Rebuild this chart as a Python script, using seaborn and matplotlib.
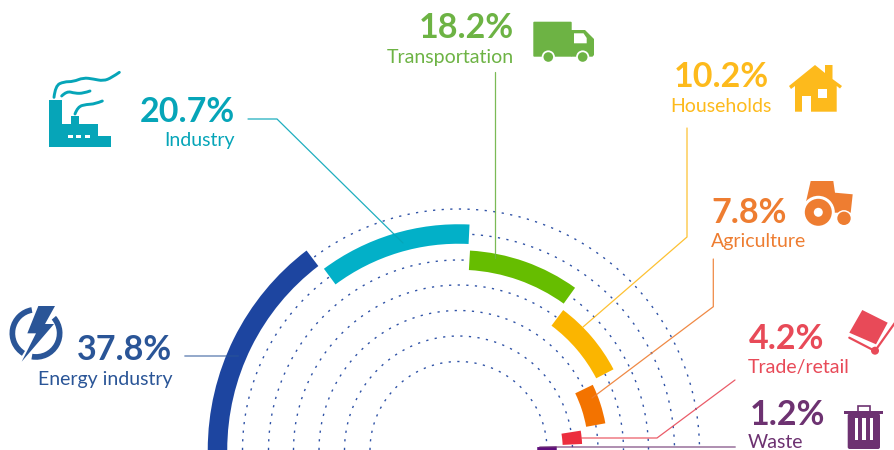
import numpy as np
import pandas as pd
import seaborn as sns
import matplotlib.pyplot as plt
from matplotlib.patches import Circle, Polygon, Rectangle, Wedge, FancyBboxPatch, PathPatch
from matplotlib.path import Path

# Chart values
sectors = ['Energy industry', 'Industry', 'Transportation', 'Households',
           'Agriculture', 'Trade/retail', 'Waste']
shares = [37.8, 20.7, 18.2, 10.2, 7.8, 4.2, 1.2]
arc_start = [0, 53.4, 93.3, 126.8, 154.1, 171.0, 177.9]
arc_end = [52.7, 92.8, 125.7, 152.5, 169.7, 177.2, 180.0]
ring_radii = [241, 216, 190, 165, 139.5, 114, 88.5]
bar_colors = ['#1d45a0', '#02b0c8', '#66bd00', '#fbb500', '#f37300', '#ec2e3e', '#5e0e7c']
text_colors = ['#2a5597', '#06a5b8', '#6db344', '#fdba1c', '#ee7d31', '#e84a58', '#6d3271']

W, H = 895, 450
CX, CY = 458.5, 450
RMAX = 300
BAR_W = 19.5
PCT_FONT = 'Lato'
LABEL_FONT = 'Lato'


def draw_rings(ax):
    theta = np.linspace(0, np.pi, 400)
    rings = pd.concat([pd.DataFrame({'theta': theta, 'r': r, 'ring': i})
                       for i, r in enumerate(ring_radii)])
    sns.lineplot(data=rings, x='theta', y='r', units='ring', estimator=None, sort=False,
                 color='#2f52a6', linewidth=1.0, linestyle=(0, (1.6, 4.6)), legend=False, ax=ax)


def draw_arcs(ax):
    start = np.radians(arc_start)
    span = np.radians(arc_end) - start
    inner = np.array(ring_radii) - BAR_W / 2
    ax.bar(start + span / 2, BAR_W, width=span, bottom=inner, color=bar_colors, linewidth=0, zorder=3)


def draw_labels(ax):
    # (x, baseline y of percent, x, baseline y of name, alignment)
    spots = [(172.5, 360.5, 173, 385, 'right'),
             (235, 121.5, 234.5, 146, 'right'),
             (514, 38, 513.5, 63, 'right'),
             (769, 87, 771.5, 111.5, 'right'),
             (711.5, 223, 711, 247.5, 'left'),
             (749, 349, 748, 373, 'left'),
             (750, 425, 748, 448, 'left')]
    for share, name, col, (x1, y1, x2, y2, ha) in zip(shares, sectors, text_colors, spots):
        ax.text(x1, y1, f'{share:.1f}%', color=col, fontsize=24.5, fontweight='bold',
                family=PCT_FONT, ha=ha, va='baseline')
        ax.text(x2, y2, name, color=col, fontsize=14, family=LABEL_FONT, ha=ha, va='baseline')


def draw_leaders(ax):
    leaders = [([185, 238], [356, 356]),
               ([248, 277, 403], [119, 119, 243]),
               ([495.5, 495.5], [72, 258]),
               ([687, 687, 583], [128, 237, 327]),
               ([713.3, 713.3, 592], [259, 306.7, 398]),
               ([735, 657, 581], [380, 438, 438]),
               ([735, 540], [447, 447])]
    widths = [1.3, 0.9, 0.9, 0.9, 0.9, 0.9, 1.4]
    alphas = [0.55, 0.9, 0.9, 0.9, 0.9, 0.9, 0.55]
    for (xs, ys), col, lw, al in zip(leaders, text_colors, widths, alphas):
        ax.plot(xs, ys, color=col, linewidth=lw, alpha=al, solid_joinstyle='miter')


def smooth(ax, pts, col, lw=2.1):
    verts = [pts[0]]
    codes = [Path.MOVETO]
    for a, b in zip(pts[1:-1], pts[2:]):
        verts += [a, ((a[0] + b[0]) / 2, (a[1] + b[1]) / 2)]
        codes += [Path.CURVE3, Path.CURVE3]
    verts[-1] = pts[-1]
    ax.add_patch(PathPatch(Path(verts, codes), fill=False, edgecolor=col, linewidth=lw, capstyle='round'))


def draw_icons(ax):
    # factory
    c = text_colors[1]
    ax.add_patch(Polygon([(49, 100), (61.7, 100), (61.7, 124.3), (71, 124.3), (71, 115.7), (79.3, 115.7),
                          (79.3, 124.3), (98.3, 124.3), (98.3, 136), (111, 136), (111, 146.7), (49, 146.7)],
                         color=c, lw=0))
    for x in [67.7, 76, 84.7]:
        ax.add_patch(Rectangle((x, 134.8), 5, 3, color='white', lw=0))
    z = lambda p: [(40 + a / 3, 65 + b / 3) for a, b in p]
    smooth(ax, z([(42, 97), (46, 62), (72, 50), (100, 50), (130, 38), (160, 42), (190, 48), (215, 38), (238, 22)]), c)
    smooth(ax, z([(65, 93), (80, 78), (105, 85), (130, 85), (150, 78)]), c)
    smooth(ax, z([(105, 147), (113, 125), (140, 118), (165, 117), (187, 108)]), c)

    # truck
    c = text_colors[2]
    ax.add_patch(FancyBboxPatch((534.3, 22.7), 36.4, 33, boxstyle='round,pad=1', color=c, lw=0))
    ax.add_patch(Polygon([(571, 30), (585, 30), (594, 39), (594, 55), (592.5, 56.7), (571, 56.7)], color=c, lw=0))
    ax.add_patch(Polygon([(574, 33.3), (583.5, 33.3), (586.7, 38), (586.7, 43.3), (574, 43.3)], color='white', lw=0))
    for x in [548.3, 582.7]:
        ax.add_patch(Circle((x, 57), 6.6, color='white', lw=0))
        ax.add_patch(Circle((x, 57), 4.8, color=c, lw=0))

    # house
    c = text_colors[3]
    ax.add_patch(Polygon([(789, 86), (815, 65), (825, 73), (825, 65), (832.5, 65), (832.5, 79), (842, 86),
                          (840, 88.5), (836.7, 86), (836.7, 111.7), (795, 111.7), (795, 86), (791, 89)],
                         color=c, lw=0))
    ax.add_patch(Rectangle((801.7, 96), 9.3, 16, color='white', lw=0))
    ax.add_patch(Rectangle((818.3, 89.3), 9, 9, color='white', lw=0))

    # tractor
    c = text_colors[4]
    ax.add_patch(Polygon([(810.7, 181), (833.3, 181), (835, 192.7), (852.7, 194.3), (850.7, 212.7),
                          (826, 212.7), (806, 201.7)], color=c, lw=0))
    ax.add_patch(Circle((818.3, 212.3), 16.5, color='white', lw=0))
    ax.add_patch(Circle((818.3, 212.3), 13.5, color=c, lw=0))
    ax.add_patch(Circle((818.3, 212.3), 4.5, color='white', lw=0))
    ax.add_patch(Circle((844, 218.3), 8.2, color='white', lw=0))
    ax.add_patch(Circle((844, 218.3), 6.7, color=c, lw=0))

    # hand truck
    c = text_colors[5]
    ax.add_patch(Polygon([(862.3, 310), (887.7, 322.7), (876, 344.3), (849.3, 332.7)], color=c, lw=0))
    ax.plot([849.3, 871.7], [337.7, 349.3], color=c, linewidth=1.6)
    ax.plot([877.3, 895], [347.7, 322.7], color=c, linewidth=1.6)
    ax.add_patch(Circle((875, 350.7), 4, color=c, lw=0))

    # bin
    c = text_colors[6]
    ax.add_patch(Rectangle((844.3, 411), 39, 3, color=c, lw=0))
    ax.add_patch(Rectangle((857.8, 406), 12.5, 6, fill=False, edgecolor=c, linewidth=1.2))
    ax.add_patch(FancyBboxPatch((849.7, 415.5), 28.3, 31.5, boxstyle='round,pad=2', color=c, lw=0))
    for x in [855, 862.5, 870]:
        ax.add_patch(Rectangle((x, 418), 3.3, 22, color='white', lw=0))

    # power bolt
    c = text_colors[0]
    center = (36, 333.3)
    ax.add_patch(Wedge(center, 26.5, 122, 260, width=5.7, color=c, lw=0))
    ax.add_patch(Wedge(center, 26.5, -41, 100, width=5.7, color=c, lw=0))
    b = lambda p: [(a / 3, 300 + d / 3) for a, d in p]
    ax.add_patch(Polygon(b([(115, 18), (165, 18), (135, 72), (162, 72), (65, 185), (108, 100), (82, 100)]),
                         color=c, lw=0))


def main():
    sns.set_theme(style='white')
    fig = plt.figure(figsize=(W / 100, H / 100), dpi=100, facecolor='white')

    # polar axes whose radius unit is one pixel, centre on the bottom edge
    polar = fig.add_axes([(CX - RMAX) / W, (H - CY - RMAX) / H, 2 * RMAX / W, 2 * RMAX / H], projection='polar')
    polar.set_theta_zero_location('W')
    polar.set_theta_direction(-1)
    draw_rings(polar)
    draw_arcs(polar)
    polar.set_rlim(0, RMAX)
    polar.set_axis_off()

    over = fig.add_axes([0, 0, 1, 1], facecolor='none')
    over.set_xlim(0, W)
    over.set_ylim(H, 0)
    over.set_axis_off()
    draw_leaders(over)
    draw_labels(over)
    draw_icons(over)

    fig.savefig('out.png', dpi=100)


if __name__ == '__main__':
    main()
